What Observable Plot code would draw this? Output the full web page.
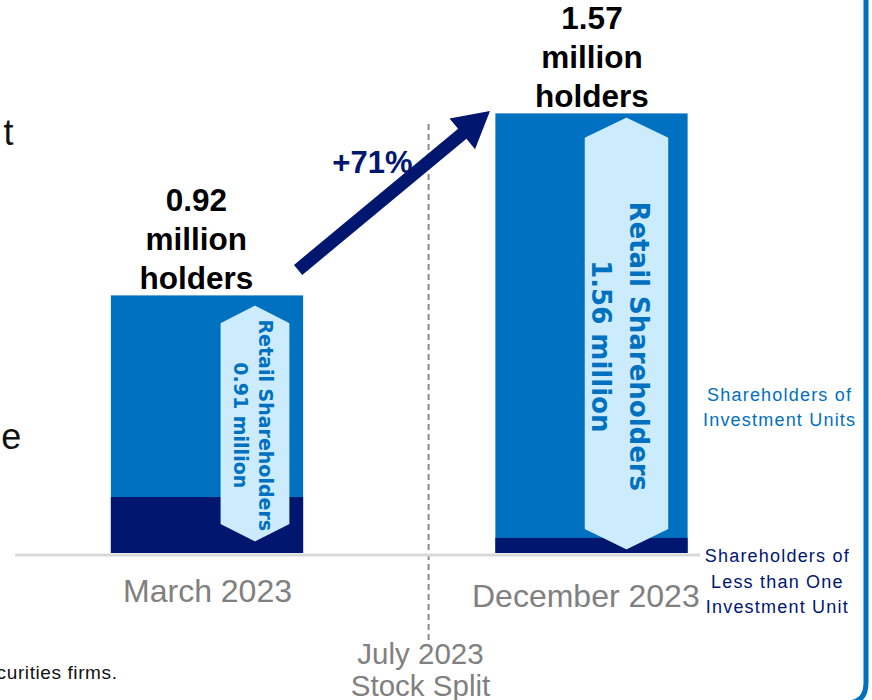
<!DOCTYPE html>
<html>
<head>
<meta charset="utf-8">
<script src="https://cdn.jsdelivr.net/npm/d3@7"></script>
<script src="https://cdn.jsdelivr.net/npm/@observablehq/plot@0.6"></script>
<style>
  html, body { margin: 0; padding: 0; background: #ffffff; }
  #chart svg { display: block; }
</style>
</head>
<body>
<div id="chart"></div>
<script>
// ---- data ----
const categories = ["March 2023", "December 2023"];
const totalHolders = [0.92, 1.57];          // million holders
const lessThanOneUnit = [0.20, 0.054];      // shareholders of less than one unit (million)
const retailShareholders = [0.91, 1.56];    // million
const totalLabels = ["0.92\nmillion\nholders", "1.57\nmillion\nholders"];
const retailLabels = ["0.91 million", "1.56 million"];
const changeLabel = "+71%";
const splitLabel = "July 2023\nStock Split";
const legendUnits = "Shareholders of\nInvestment Units";
const legendLess = "Shareholders of\nLess than One\nInvestment Unit";

// ---- style / layout ----
const W = 872, H = 700;
const BLUE = "#0070C0", NAVY = "#00166F", LIGHT = "#CCEBFC", GREY = "#808080";
const xDomain = [-207 / 384.5, (W - 207) / 384.5];
const yDomain = [-147 / 280, 553 / 280];
const barHalf = 0.25;

const bars = categories.map((c, i) => ({
  i, c, total: totalHolders[i], less: lessThanOneUnit[i], retail: retailShareholders[i],
  label: totalLabels[i], retailLabel: retailLabels[i]
}));

// hexagon badges (center x, half width, bottom, top, point depth) in data units
const hexes = [
  {i: 0, cx: 0.1235, hw: 0.0875, yb: 0.046, yt: 0.882, pd: 0.061, fs: 19, x1: 0.151, x2: 0.086, yc: 0.458},
  {i: 1, cx: 1.0897, hw: 0.1066, yb: 0.018, yt: 1.554, pd: 0.071, fs: 26, x1: 1.121, x2: 1.022, yc: 0.74}
];
const hexPts = hexes.flatMap(h => [
  [h.cx - h.hw, h.yb + h.pd], [h.cx - h.hw, h.yt - h.pd], [h.cx, h.yt],
  [h.cx + h.hw, h.yt - h.pd], [h.cx + h.hw, h.yb + h.pd], [h.cx, h.yb]
].map(([x, y]) => ({i: h.i, x, y})));

const arrow = {x1: 0.237, y1: 1.011, x2: 0.736, y2: 1.579, shaft: 13, headLen: 36, headW: 40};

function arrowMark(index, scales) {
  const X = scales.x, Y = scales.y;
  const ax = X(arrow.x1), ay = Y(arrow.y1), bx = X(arrow.x2), by = Y(arrow.y2);
  const L = Math.hypot(bx - ax, by - ay), ux = (bx - ax) / L, uy = (by - ay) / L;
  const px = -uy, py = ux;
  const cx = bx - ux * arrow.headLen, cy = by - uy * arrow.headLen;
  const s = arrow.shaft / 2, h = arrow.headW / 2;
  const pts = [
    [ax + px * s, ay + py * s], [cx + px * s, cy + py * s], [cx + px * h, cy + py * h],
    [bx, by], [cx - px * h, cy - py * h], [cx - px * s, cy - py * s], [ax - px * s, ay - py * s]
  ];
  const p = document.createElementNS("http://www.w3.org/2000/svg", "path");
  p.setAttribute("d", "M" + pts.map(q => q.join(",")).join("L") + "Z");
  p.setAttribute("fill", NAVY);
  return p;
}

function frameMark(index, scales, values, dims) {
  const xr = dims.width - 6, yb = dims.height + 3, r = 20;
  const p = document.createElementNS("http://www.w3.org/2000/svg", "path");
  p.setAttribute("d", `M${xr},0 L${xr},${yb - r} Q${xr},${yb} ${xr - r},${yb} L${xr - 60},${yb}`);
  p.setAttribute("fill", "none");
  p.setAttribute("stroke", BLUE);
  p.setAttribute("stroke-width", 5);
  return p;
}

const spacing = (v) => (index, scales, values, dims, ctx, next) => {
  const g = next(index, scales, values, dims, ctx);
  g.setAttribute("letter-spacing", v);
  return g;
};

const FONT = "Liberation Sans, Arial, sans-serif";

const chart = Plot.plot({
  width: W, height: H,
  margin: 0,
  x: {domain: xDomain, axis: null},
  y: {domain: yDomain, axis: null},
  style: {fontFamily: FONT, background: "#ffffff"},
  marks: [
    // left-edge fragments of surrounding slide text
    Plot.text(["t"], {x: -0.5045, y: 1.5, text: d => d, textAnchor: "end", fontSize: 36, fill: "#111"}),
    Plot.text(["e"], {x: -0.484, y: 0.414, text: d => d, textAnchor: "end", fontSize: 36, fill: "#111"}),
    Plot.text(["curities firms."], {x: -0.234, y: -0.425, text: d => d, textAnchor: "end", fontSize: 19, fill: "#111", render: spacing(0.6)}),
    // stock split divider
    Plot.ruleX([0.575], {y1: -0.311, y2: 1.539, stroke: GREY, strokeWidth: 2, strokeDasharray: "6,4", strokeOpacity: 0.9}),
    // bars
    Plot.rectY(bars, {x1: d => d.i - barHalf, x2: d => d.i + barHalf, y1: 0, y2: "total", fill: BLUE}),
    Plot.rectY(bars, {x1: d => d.i - barHalf, x2: d => d.i + barHalf, y1: 0, y2: "less", fill: NAVY}),
    // baseline
    Plot.ruleY([0], {x1: -0.499, x2: 1.282, stroke: "#D9D9D9", strokeWidth: 3, dy: 1.5}),
    // hexagon badges
    Plot.line(hexPts, {x: "x", y: "y", z: "i", fill: LIGHT, stroke: LIGHT, curve: "linear-closed"}),
    Plot.text(hexes, {x: "x1", y: "yc", text: () => "Retail Shareholders", rotate: 90, fontSize: "fs", fontWeight: "bold", fill: BLUE, fontFamily: "DejaVu Sans"}),
    Plot.text(hexes, {x: "x2", y: "yc", text: h => retailLabels[h.i], rotate: 90, fontSize: "fs", fontWeight: "bold", fill: BLUE, fontFamily: "DejaVu Sans"}),
    // total labels
    Plot.text(bars, {x: d => d.i + (d.i === 0 ? -0.029 : 0), y: "total", text: "label", lineAnchor: "bottom", dy: -7, fontSize: 31.5, lineHeight: 1.23, fontWeight: "bold", fill: "#000"}),
    // growth arrow
    arrowMark,
    Plot.text([changeLabel], {x: 0.429, y: 1.393, text: d => d, fontSize: 31, fontWeight: "bold", fill: NAVY}),
    // category labels
    Plot.text(bars, {x: d => d.i + (d.i === 0 ? 0 : -0.016), y: d => d.i === 0 ? -0.136 : -0.154, text: "c", fontSize: 32, fill: GREY}),
    Plot.text([splitLabel], {x: 0.554, y: -0.415, text: d => d, fontSize: 29.5, lineHeight: 1.08, fill: GREY}),
    // legend labels
    Plot.text([legendUnits], {x: 1.488, y: 0.529, text: d => d, fontSize: 18, lineHeight: 1.42, fill: BLUE, render: spacing(1.2)}),
    Plot.text([legendLess], {x: 1.482, y: -0.093, text: d => d, fontSize: 18, lineHeight: 1.42, fill: NAVY, render: spacing(1.2)}),
    // slide frame
    frameMark
  ]
});
document.getElementById("chart").appendChild(chart);
</script>
</body>
</html>
